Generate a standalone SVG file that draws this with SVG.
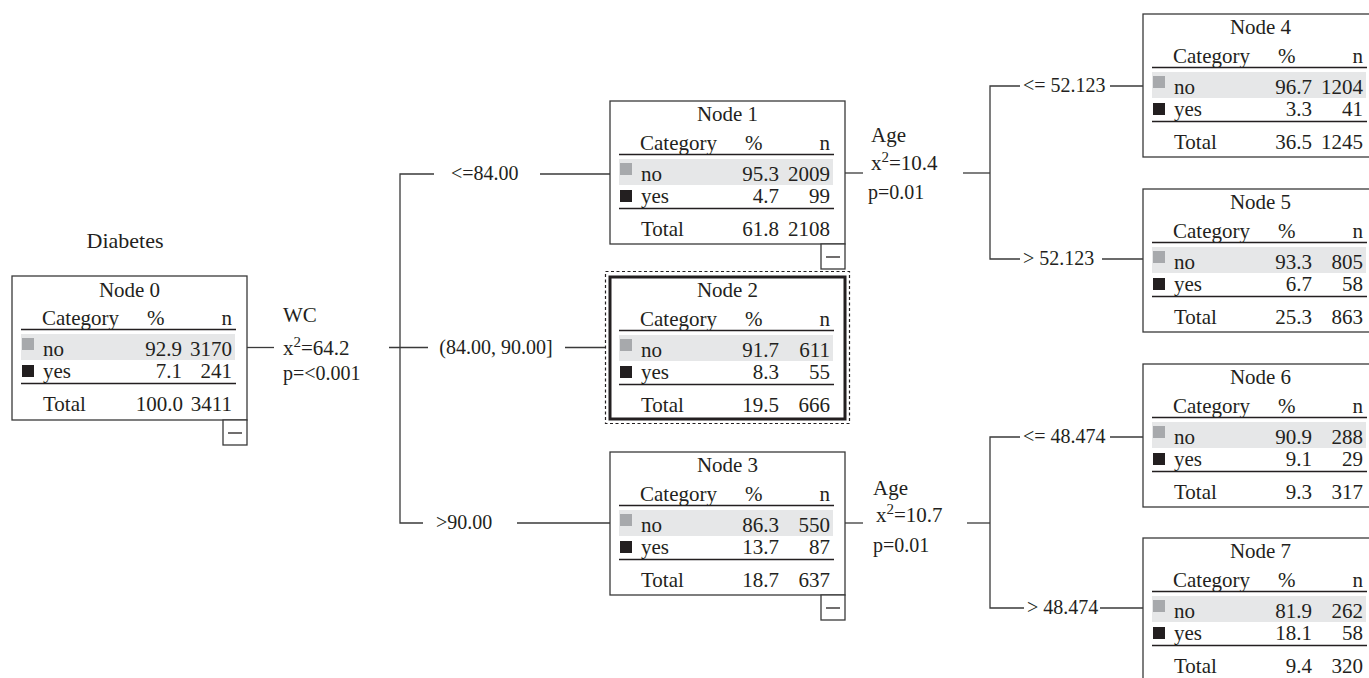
<svg xmlns="http://www.w3.org/2000/svg" width="1369" height="678" viewBox="0 0 1369 678">
<style>
text{font-family:"Liberation Serif","Times New Roman",serif;font-size:21px;fill:#231f20}
.lb{font-size:20px}
.t{text-anchor:middle}
.r{text-anchor:end}
.sup{font-size:15px}
.box{fill:#fff;stroke:#3a3a3a;stroke-width:1.3}
.thick{fill:#fff;stroke:#231f20;stroke-width:3}
.dash{fill:none;stroke:#231f20;stroke-width:1.2;stroke-dasharray:3,2.5}
.sep{stroke:#231f20;stroke-width:1.3}
.hl{fill:#e6e7e8}
.sq0{fill:#a7a9ac}
.sq1{fill:#231f20}
.c{fill:none;stroke:#3a3a3a;stroke-width:1.3}
.mb{fill:#fff;stroke:#3a3a3a;stroke-width:1.3}
</style>
<defs>
<g id="tbl">
<text x="30" y="49">Category</text>
<text x="135" y="49">%</text>
<text x="220" y="49" class="r">n</text>
<line x1="9" y1="53.5" x2="224" y2="53.5" class="sep"/>
<rect x="9" y="58" width="214" height="26" class="hl"/>
<rect x="10" y="62" width="12" height="12" class="sq0"/>
<text x="31" y="80">no</text>
<rect x="10" y="89" width="12" height="12" class="sq1"/>
<text x="31" y="102">yes</text>
<line x1="9" y1="107.5" x2="224" y2="107.5" class="sep"/>
<text x="31" y="135">Total</text>
</g>
<g id="minus">
<rect x="211" y="0" width="24" height="25" class="mb"/>
<line x1="216" y1="13" x2="230" y2="13" class="sep"/>
</g>
</defs>

<text x="125" y="248" class="t" style="font-size:22px">Diabetes</text>

<g id="connectors">
<line x1="246" y1="347.5" x2="274" y2="347.5" class="c"/>
<line x1="389" y1="347.5" x2="428" y2="347.5" class="c"/>
<line x1="565" y1="347.5" x2="606" y2="347.5" class="c"/>
<polyline points="434,174 400,174 400,523 423,523" class="c"/>
<line x1="540" y1="174" x2="610" y2="174" class="c"/>
<line x1="517" y1="523" x2="610" y2="523" class="c"/>
<line x1="845" y1="173" x2="863" y2="173" class="c"/>
<line x1="963" y1="173" x2="990" y2="173" class="c"/>
<polyline points="1020,86 990,86 990,259 1020,259" class="c"/>
<line x1="1110" y1="86" x2="1143" y2="86" class="c"/>
<line x1="1102" y1="259" x2="1143" y2="259" class="c"/>
<line x1="845" y1="523" x2="863" y2="523" class="c"/>
<line x1="967" y1="523" x2="990" y2="523" class="c"/>
<polyline points="1020,437 990,437 990,608 1024,608" class="c"/>
<line x1="1110" y1="437" x2="1143" y2="437" class="c"/>
<line x1="1100" y1="608" x2="1143" y2="608" class="c"/>
<text x="451" y="180" class="lb">&lt;=84.00</text>
<text x="496" y="354" class="lb t">(84.00, 90.00]</text>
<text x="436" y="529" class="lb">&gt;90.00</text>
<text x="1023" y="92" class="lb">&lt;= 52.123</text>
<text x="1023" y="265" class="lb">&gt; 52.123</text>
<text x="1023" y="443" class="lb">&lt;= 48.474</text>
<text x="1027" y="614" class="lb">&gt; 48.474</text>
<text x="283" y="322">WC</text>
<text x="283" y="355">x<tspan class="sup" dy="-8">2</tspan><tspan dy="8">=64.2</tspan></text>
<text x="283" y="380" class="lb">p=&lt;0.001</text>
<text x="871" y="142">Age</text>
<text x="871" y="170">x<tspan class="sup" dy="-8">2</tspan><tspan dy="8">=10.4</tspan></text>
<text x="868" y="199" class="lb">p=0.01</text>
<text x="873" y="495">Age</text>
<text x="876" y="522">x<tspan class="sup" dy="-8">2</tspan><tspan dy="8">=10.7</tspan></text>
<text x="873" y="552" class="lb">p=0.01</text>
</g>

<g id="node0" transform="translate(12,276)">
<rect x="0" y="0" width="235" height="144" class="box"/>
<text x="117.5" y="21" class="t">Node 0</text>
<use href="#tbl"/>
<text x="170" y="80" class="r">92.9</text><text x="220" y="80" class="r">3170</text>
<text x="170" y="102" class="r">7.1</text><text x="220" y="102" class="r">241</text>
<text x="171" y="135" class="r">100.0</text><text x="220" y="135" class="r">3411</text>
<use href="#minus" y="144"/>
</g>

<g id="node1" transform="translate(610,101)">
<rect x="0" y="0" width="235" height="143" class="box"/>
<text x="117.5" y="20" class="t">Node 1</text>
<use href="#tbl"/>
<text x="169" y="80" class="r">95.3</text><text x="220" y="80" class="r">2009</text>
<text x="169" y="102" class="r">4.7</text><text x="220" y="102" class="r">99</text>
<text x="169" y="135" class="r">61.8</text><text x="220" y="135" class="r">2108</text>
<use href="#minus" y="143"/>
</g>

<g id="node2" transform="translate(610,277)">
<rect x="-4.5" y="-5.5" width="244" height="152" class="dash"/>
<rect x="0" y="0" width="235" height="142" class="thick"/>
<text x="117.5" y="20" class="t">Node 2</text>
<use href="#tbl"/>
<text x="169" y="80" class="r">91.7</text><text x="220" y="80" class="r">611</text>
<text x="169" y="102" class="r">8.3</text><text x="220" y="102" class="r">55</text>
<text x="169" y="135" class="r">19.5</text><text x="220" y="135" class="r">666</text>
</g>

<g id="node3" transform="translate(610,452)">
<rect x="0" y="0" width="235" height="143" class="box"/>
<text x="117.5" y="20" class="t">Node 3</text>
<use href="#tbl"/>
<text x="169" y="80" class="r">86.3</text><text x="220" y="80" class="r">550</text>
<text x="169" y="102" class="r">13.7</text><text x="220" y="102" class="r">87</text>
<text x="169" y="135" class="r">18.7</text><text x="220" y="135" class="r">637</text>
<use href="#minus" y="143"/>
</g>

<g id="node4" transform="translate(1143,14)">
<rect x="0" y="0" width="235" height="143" class="box"/>
<text x="117.5" y="20" class="t">Node 4</text>
<use href="#tbl"/>
<text x="169" y="80" class="r">96.7</text><text x="220" y="80" class="r">1204</text>
<text x="169" y="102" class="r">3.3</text><text x="220" y="102" class="r">41</text>
<text x="169" y="135" class="r">36.5</text><text x="220" y="135" class="r">1245</text>
</g>

<g id="node5" transform="translate(1143,189)">
<rect x="0" y="0" width="235" height="143" class="box"/>
<text x="117.5" y="20" class="t">Node 5</text>
<use href="#tbl"/>
<text x="169" y="80" class="r">93.3</text><text x="220" y="80" class="r">805</text>
<text x="169" y="102" class="r">6.7</text><text x="220" y="102" class="r">58</text>
<text x="169" y="135" class="r">25.3</text><text x="220" y="135" class="r">863</text>
</g>

<g id="node6" transform="translate(1143,364)">
<rect x="0" y="0" width="235" height="143" class="box"/>
<text x="117.5" y="20" class="t">Node 6</text>
<use href="#tbl"/>
<text x="169" y="80" class="r">90.9</text><text x="220" y="80" class="r">288</text>
<text x="169" y="102" class="r">9.1</text><text x="220" y="102" class="r">29</text>
<text x="169" y="135" class="r">9.3</text><text x="220" y="135" class="r">317</text>
</g>

<g id="node7" transform="translate(1143,538)">
<rect x="0" y="0" width="235" height="143" class="box"/>
<text x="117.5" y="20" class="t">Node 7</text>
<use href="#tbl"/>
<text x="169" y="80" class="r">81.9</text><text x="220" y="80" class="r">262</text>
<text x="169" y="102" class="r">18.1</text><text x="220" y="102" class="r">58</text>
<text x="169" y="135" class="r">9.4</text><text x="220" y="135" class="r">320</text>
</g>
</svg>
